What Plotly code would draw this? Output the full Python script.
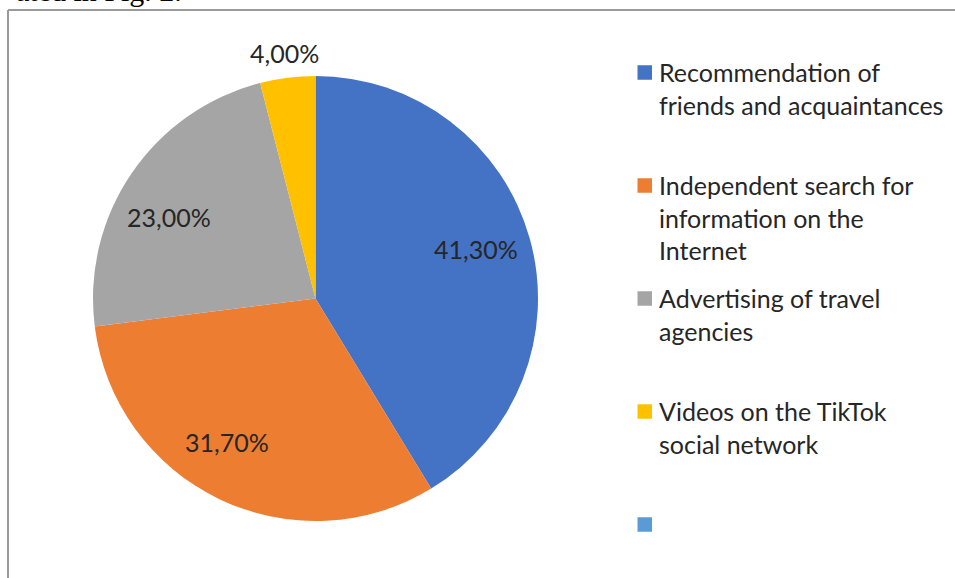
import math
import plotly.graph_objects as go

# Survey shares: where respondents get information about trips
categories = [
    "Recommendation of<br>friends and acquaintances",
    "Independent search for<br>information on the<br>Internet",
    "Advertising of travel<br>agencies",
    "Videos on the TikTok<br>social network",
    "",
]
shares = [41.3, 31.7, 23.0, 4.0, 0.0]
colors = ["#4472C4", "#ED7D31", "#A5A5A5", "#FFC000", "#5B9BD5"]
caption_tail = "ated in Fig. 2."

W, H = 955, 578
TEXT_FONT = "Lato"
TEXT_COLOR = "#262626"

# Pie placement in pixels
CX, CY, R = 315.5, 298.5, 222.5

# Data-label placement: radius factor and small pixel nudges (best-fit style)
label_radius = [0.755, 0.755, 0.755, 1.112]
label_nudge = [(-1, -4), (-16, -8), (-8, 13), (0, 0)]


def px_x(x):
    return x / W


def px_y(y):
    return 1 - y / H


fig = go.Figure()

fig.add_trace(go.Pie(
    labels=[c if c else " " for c in categories],
    values=shares,
    sort=False,
    direction="clockwise",
    rotation=0,
    marker=dict(colors=colors, line=dict(width=0)),
    textinfo="none",
    showlegend=False,
    hoverinfo="skip",
    domain=dict(x=[px_x(CX - R), px_x(CX + R)],
                y=[px_y(CY + R), px_y(CY - R)]),
))

# Chart-area frame (left and top edges)
frame = dict(type="line", xref="paper", yref="paper",
             line=dict(color="#9a9a9a", width=2))
shapes = [
    dict(frame, x0=px_x(8), x1=px_x(8), y0=0, y1=px_y(10)),
    dict(frame, x0=px_x(8), x1=1, y0=px_y(10), y1=px_y(10)),
]

annotations = [
    dict(text=caption_tail, xref="paper", yref="paper",
         x=px_x(184), y=px_y(8.8), xanchor="right", yanchor="bottom",
         showarrow=False,
         font=dict(family="Liberation Serif", size=30, color="#000000")),
]

# Percentage labels at each slice's mid-angle
total = sum(shares)
cum = 0.0
for i, v in enumerate(shares):
    if v <= 0:
        continue
    theta = math.radians(360.0 * (cum + v / 2) / total)
    cum += v
    r = R * label_radius[i]
    dx, dy = label_nudge[i]
    lx = CX + r * math.sin(theta) + dx
    ly = CY - r * math.cos(theta) + dy
    annotations.append(dict(
        text=f"{v:.2f}%".replace(".", ","), xref="paper", yref="paper",
        x=px_x(lx), y=px_y(ly), xanchor="center", yanchor="middle",
        showarrow=False,
        font=dict(family=TEXT_FONT, size=25, color=TEXT_COLOR)))

# Legend: one square per category, label lines stacked beside it
row_top = 72.5
row_step = 113.0
line_step = 32.6
sq = 14.5
for i, (name, col) in enumerate(zip(categories, colors)):
    cy = row_top + i * row_step
    shapes.append(dict(type="rect", xref="paper", yref="paper",
                       x0=px_x(637.5), x1=px_x(637.5 + sq),
                       y0=px_y(cy + sq / 2), y1=px_y(cy - sq / 2),
                       fillcolor=col, line=dict(width=0)))
    for k, line in enumerate(name.split("<br>") if name else []):
        annotations.append(dict(
            text=line, xref="paper", yref="paper",
            x=px_x(657), y=px_y(cy - 0.5 + k * line_step),
            xanchor="left", yanchor="middle", showarrow=False,
            font=dict(family=TEXT_FONT, size=25, color=TEXT_COLOR)))

fig.update_layout(
    width=W, height=H,
    margin=dict(l=0, r=0, t=0, b=0),
    paper_bgcolor="white",
    plot_bgcolor="white",
    shapes=shapes,
    annotations=annotations,
)

fig.write_html("out.html")
